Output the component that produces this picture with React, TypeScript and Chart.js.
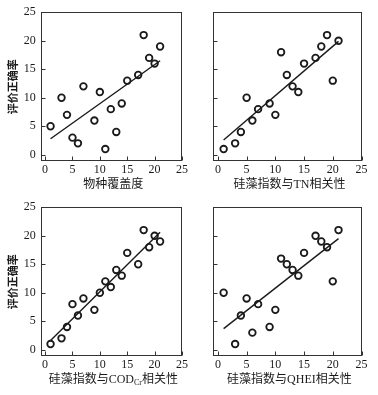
import React, { useEffect, useRef } from "react";
import { Chart, registerables } from "chart.js";

Chart.register(...registerables);

// ---------- data ----------
const tickValues = [0, 5, 10, 15, 20, 25];

const sampleX = [1, 3, 4, 5, 6, 7, 9, 10, 11, 12, 13, 14, 15, 17, 18, 19, 20, 21];

const speciesY = [5, 10, 7, 3, 2, 12, 6, 11, 1, 8, 4, 9, 13, 14, 21, 17, 16, 19];
const speciesFitX = [1, 21];
const speciesFitY = [2.8, 16.5];

const tnY = [1, 2, 4, 10, 6, 8, 9, 7, 18, 14, 12, 11, 16, 17, 19, 21, 13, 20];
const tnFitX = [1, 21];
const tnFitY = [2.6, 19.9];

const codY = [1, 2, 4, 8, 6, 9, 7, 10, 12, 11, 14, 13, 17, 15, 21, 18, 20, 19];
const codFitX = [1, 21];
const codFitY = [1.6, 20.6];

const qheiY = [10, 1, 6, 9, 3, 8, 4, 7, 16, 15, 14, 13, 17, 20, 19, 18, 12, 21];
const qheiFitX = [1, 21];
const qheiFitY = [3.7, 19.5];

const yTitle = "评价正确率";
type Seg = { text: string; sub?: boolean };
const titleSpecies: Seg[] = [{ text: "物种覆盖度" }];
const titleTN: Seg[] = [{ text: "硅藻指数与TN相关性" }];
const titleCOD: Seg[] = [{ text: "硅藻指数与COD" }, { text: "Cr", sub: true }, { text: "相关性" }];
const titleQHEI: Seg[] = [{ text: "硅藻指数与QHEI相关性" }];

// ---------- style ----------
const FONT = "'Liberation Serif', 'Noto Sans CJK SC', serif";
const CJK = "'Noto Sans CJK SC', sans-serif";
const INK = "#1a1a1a";
const CANVAS_H = 195;
const AREA_TOP = 12.3;
const AREA_BOTTOM = 161;
const TITLE_Y = 185;

const framePlugin = {
  id: "frameTicks",
  afterDraw(chart: any) {
    const { ctx, chartArea } = chart;
    const { left, right, top, bottom } = chartArea;
    const xs = chart.scales.x;
    const ys = chart.scales.y;
    ctx.save();
    ctx.strokeStyle = "#333";
    ctx.lineWidth = 1;
    const l = Math.round(left) + 0.5;
    const r = Math.round(right) - 0.5;
    const t = Math.round(top) + 0.5;
    const b = Math.round(bottom) - 0.5;
    ctx.strokeRect(l, t, r - l, b - t);
    ctx.beginPath();
    tickValues.forEach((v) => {
      const px = Math.round(xs.getPixelForValue(v)) + 0.5;
      ctx.moveTo(px, b);
      ctx.lineTo(px, b - 4);
      const py = Math.round(ys.getPixelForValue(v)) + 0.5;
      ctx.moveTo(l, py);
      ctx.lineTo(l + 4, py);
    });
    ctx.stroke();
    ctx.restore();
  },
};

const xTitlePlugin = {
  id: "xTitle",
  afterDraw(chart: any, _args: any, opts: any) {
    const segs: Seg[] = opts.segments || [];
    const { ctx, chartArea } = chart;
    ctx.save();
    ctx.fillStyle = INK;
    ctx.textBaseline = "middle";
    const fontFor = (s: Seg) => (s.sub ? `8px ${FONT}` : `12px ${FONT}`);
    let total = 0;
    segs.forEach((s) => {
      ctx.font = fontFor(s);
      total += ctx.measureText(s.text).width;
    });
    let x = (chartArea.left + chartArea.right) / 2 + 2 - total / 2;
    segs.forEach((s) => {
      ctx.font = fontFor(s);
      ctx.textAlign = "left";
      ctx.fillText(s.text, x, TITLE_Y + (s.sub ? 3 : 0));
      x += ctx.measureText(s.text).width;
    });
    ctx.restore();
  },
};

type PanelProps = {
  left: number;
  top: number;
  width: number;
  areaLeft: number;
  areaRight: number;
  ys: number[];
  fitX: number[];
  fitY: number[];
  title: Seg[];
  showY: boolean;
};

function Panel(p: PanelProps) {
  const ref = useRef<HTMLCanvasElement>(null);
  useEffect(() => {
    if (!ref.current) return;
    const chart = new Chart(ref.current, {
      type: "scatter",
      data: {
        datasets: [
          {
            data: p.fitX.map((x, i) => ({ x, y: p.fitY[i] })),
            showLine: true,
            borderColor: INK,
            borderWidth: 1.4,
            pointRadius: 0,
            order: 2,
          } as any,
          {
            data: sampleX.map((x, i) => ({ x, y: p.ys[i] })),
            pointStyle: "circle",
            pointRadius: 3.3,
            pointBorderWidth: 1.8,
            borderColor: INK,
            backgroundColor: "rgba(0,0,0,0)",
            order: 1,
          } as any,
        ],
      },
      options: {
        responsive: false,
        animation: false,
        devicePixelRatio: 1,
        layout: { padding: { top: AREA_TOP, right: p.width - p.areaRight, left: 0, bottom: 0 } },
        plugins: {
          legend: { display: false },
          tooltip: { enabled: false },
          xTitle: { segments: p.title },
        } as any,
        scales: {
          x: {
            type: "linear",
            min: -0.8,
            max: 25,
            grid: { display: false, drawTicks: false },
            border: { display: false },
            ticks: {
              font: { family: FONT, size: 12 },
              color: INK,
              padding: 2,
              maxRotation: 0,
              autoSkip: false,
            },
            afterBuildTicks: (s: any) => {
              s.ticks = tickValues.map((v) => ({ value: v }));
            },
            afterFit: (s: any) => {
              s.height = CANVAS_H - AREA_BOTTOM;
            },
          },
          y: {
            type: "linear",
            min: -1.1,
            max: 25,
            grid: { display: false, drawTicks: false },
            border: { display: false },
            ticks: {
              display: p.showY,
              font: { family: FONT, size: 12 },
              color: INK,
              padding: 5,
            },
            title: {
              display: p.showY,
              text: yTitle,
              color: INK,
              font: { family: CJK, size: 11, weight: "bold" },
              padding: { top: 6.7, bottom: 0 },
            },
            afterBuildTicks: (s: any) => {
              s.ticks = tickValues.map((v) => ({ value: v }));
            },
            afterFit: (s: any) => {
              s.width = p.areaLeft;
            },
          },
        },
      } as any,
      plugins: [framePlugin, xTitlePlugin],
    });
    return () => chart.destroy();
  }, []);
  return (
    <canvas
      ref={ref}
      width={p.width}
      height={CANVAS_H}
      style={{ position: "absolute", left: p.left, top: p.top, width: p.width, height: CANVAS_H }}
    />
  );
}

export default function App() {
  return (
    <div style={{ position: "absolute", left: 0, top: 0, width: 378, height: 395, background: "#fff" }}>
      <Panel left={0} top={0} width={190} areaLeft={40.7} areaRight={186.7} ys={speciesY} fitX={speciesFitX} fitY={speciesFitY} title={titleSpecies} showY={true} />
      <Panel left={190} top={0} width={188} areaLeft={23.3} areaRight={171.5} ys={tnY} fitX={tnFitX} fitY={tnFitY} title={titleTN} showY={false} />
      <Panel left={0} top={195} width={190} areaLeft={40.7} areaRight={186.7} ys={codY} fitX={codFitX} fitY={codFitY} title={titleCOD} showY={true} />
      <Panel left={190} top={195} width={188} areaLeft={23.3} areaRight={171.5} ys={qheiY} fitX={qheiFitX} fitY={qheiFitY} title={titleQHEI} showY={false} />
    </div>
  );
}
